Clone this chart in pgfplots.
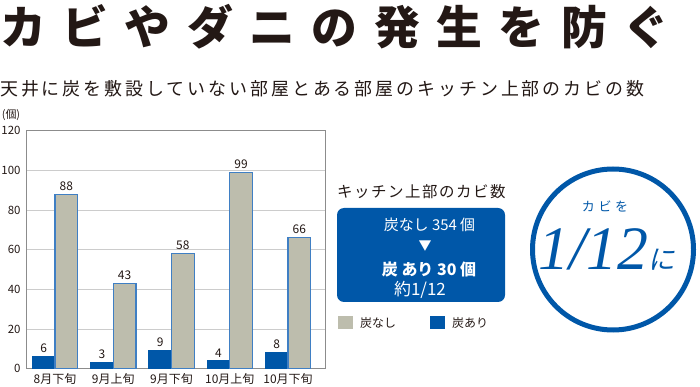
\documentclass[border=0pt]{standalone}
\usepackage{fontspec}
\setmainfont{Noto Sans CJK JP}
\newfontfamily\serifit{Liberation Serif}[ItalicFont=* Italic]
\newfontfamily\cjkslant[FakeSlant=0.18]{Noto Sans CJK JP}
\usepackage{pgfplots}
\pgfplotsset{compat=1.18}
\definecolor{myblue}{HTML}{0057A8}
\definecolor{mygray}{HTML}{BDBDAD}
\definecolor{edgeblue}{HTML}{3F7FC4}
\definecolor{textdark}{HTML}{231815}
\definecolor{gridgray}{HTML}{CCCCCC}
\definecolor{framegray}{HTML}{8C8C8C}
\begin{document}
\begin{tikzpicture}
\path[use as bounding box] (0bp,0bp) rectangle (700bp,387bp);
% Title
\node[anchor=west, inner sep=0, text=textdark] at (0bp,360bp)
  {\fontsize{46}{46}\selectfont\bfseries\addfontfeature{LetterSpace=36}カビやダニの発生を防ぐ};
\node[anchor=west, inner sep=0, text=textdark] at (0bp,298bp)
  {\fontsize{18}{18}\selectfont\addfontfeature{LetterSpace=16.5}天井に炭を敷設していない部屋とある部屋のキッチン上部のカビの数};
% y unit label
\node[inner sep=0, text=textdark] at (11bp,272bp) {\fontsize{11}{11}\selectfont (個)};
\begin{axis}[
  at={(26bp,18.3bp)}, anchor=south west,
  scale only axis, width=299bp, height=238bp,
  xmin=-0.497, xmax=4.635, ymin=0, ymax=120,
  xtick={0,1,2,3,4},
  xticklabels={8月下旬,9月上旬,9月下旬,10月上旬,10月下旬},
  ytick={0,20,40,60,80,100,120},
  ymajorgrids,
  grid style={color=gridgray, line width=0.7bp},
  axis line style={color=framegray, line width=0.8bp},
  major tick length=0pt,
  tick label style={font=\fontsize{11.5}{12}\selectfont, text=textdark},
  xticklabel style={font=\fontsize{12}{12}\selectfont, yshift=-1bp},
  yticklabel style={xshift=-2bp},
  /pgf/number format/assume math mode=true,
]
\addplot[ybar, bar width=22.7bp, bar shift=-11.35bp, fill=myblue, draw=myblue, line width=0.8bp,
  nodes near coords,
  every node near coord/.append style={font=\fontsize{12}{12}\selectfont, text=textdark, xshift=-11.35bp}]
  coordinates {(0,6) (1,3) (2,9) (3,4) (4,8)};
\addplot[ybar, bar width=22.7bp, bar shift=11.35bp, fill=mygray, draw=edgeblue, line width=1.3bp,
  nodes near coords,
  every node near coord/.append style={font=\fontsize{12}{12}\selectfont, text=textdark, xshift=11.35bp}]
  coordinates {(0,88) (1,43) (2,58) (3,99) (4,66)};
\end{axis}
% Right panel
\node[anchor=west, inner sep=0, text=textdark] at (337bp,195.5bp)
  {\fontsize{15.5}{16}\selectfont\addfontfeature{LetterSpace=10}キッチン上部のカビ数};
\fill[myblue, rounded corners=7bp] (337bp,85bp) rectangle (505bp,179bp);
\node[inner sep=0, text=white] at (429.5bp,162bp) {\fontsize{15}{15}\selectfont 炭なし 354 個};
\node[inner sep=0, text=white] at (425bp,141bp) {\fontsize{13}{13}\selectfont ▼};
\node[inner sep=0, text=white] at (429bp,118bp) {\fontsize{16}{16}\selectfont\bfseries 炭 あり 30 個};
\node[inner sep=0, text=white] at (420bp,97bp) {\fontsize{17}{17}\selectfont 約1/12};
% legend
\fill[mygray] (338bp,58bp) rectangle (353bp,71bp);
\node[anchor=west, inner sep=0, text=textdark] at (360bp,64.5bp) {\fontsize{12}{12}\selectfont 炭なし};
\fill[myblue] (430bp,58bp) rectangle (445bp,71bp);
\node[anchor=west, inner sep=0, text=textdark] at (452bp,64.5bp) {\fontsize{12}{12}\selectfont 炭あり};
% circle
\draw[myblue, line width=5bp] (613bp,137.5bp) circle (80.5bp);
\node[inner sep=0, text=myblue] at (605bp,181bp) {\fontsize{13}{13}\selectfont\addfontfeature{LetterSpace=28}カビを};
\node[anchor=base west, inner sep=0, text=myblue] at (538bp,117bp)
  {\serifit\itshape\fontsize{62}{62}\selectfont 1/12\cjkslant\fontsize{27}{27}\selectfont に};
\end{tikzpicture}
\end{document}
